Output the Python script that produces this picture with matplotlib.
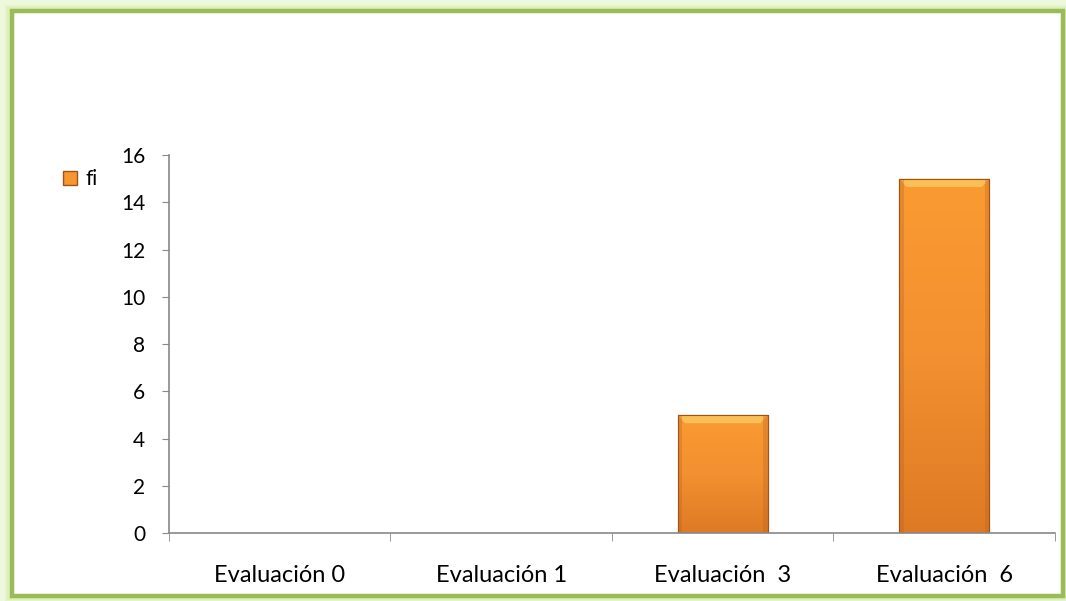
import numpy as np
import matplotlib
matplotlib.use("Agg")
import matplotlib.pyplot as plt
from matplotlib.patches import Rectangle, Patch

# datos del gráfico
categorias = ["Evaluación 0", "Evaluación 1", "Evaluación  3", "Evaluación  6"]
fi = [0, 0, 5, 15]
yticks = [0, 2, 4, 6, 8, 10, 12, 14, 16]

plt.rcParams['font.family'] = ['Lato', 'DejaVu Sans']

fig = plt.figure(figsize=(10.66, 6.01), dpi=100)
fig.patch.set_facecolor("#eef8dc")

# marco verde con brillo exterior (detrás de los ejes)
for pad, a in [(0.006, 0.5), (0.004, 0.8)]:
    fig.patches.append(Rectangle((0.0108 - pad, 0.0083 - pad * 1.77), 0.986 + 2 * pad, 0.9726 + 2 * pad * 1.77,
                                 transform=fig.transFigure, facecolor="#dcefb8", edgecolor="none",
                                 alpha=a, zorder=-2))
fig.patches.append(Rectangle((0.0108, 0.0083), 0.986, 0.9726, transform=fig.transFigure,
                             facecolor="white", edgecolor="#9bbb59", lw=3.2, zorder=-1))

ax = fig.add_axes([0.1585, 0.1131, 0.8311, 0.629])
ax.set_facecolor("none")
x = np.arange(len(categorias))
barras = ax.bar(x, fi, width=0.406, color="#f7962e", edgecolor="#a0521a", linewidth=0.8, zorder=2)

# degradado naranja dentro de cada barra
grad = np.linspace(0, 1, 256).reshape(-1, 1)
cmap = matplotlib.colors.LinearSegmentedColormap.from_list("nar", ["#de7a24", "#f39030", "#fa9b32"])
for b in barras:
    if b.get_height() <= 0:
        continue
    x0, w, h = b.get_x(), b.get_width(), b.get_height()
    im = ax.imshow(grad, extent=[x0, x0 + w, 0, h], origin="lower", cmap=cmap,
                   aspect="auto", zorder=2.1)
    im.set_clip_path(b)
    # bisel superior claro
    ax.fill([x0, x0 + w, x0 + w * 0.92, x0 + w * 0.08], [h, h, h - 0.35, h - 0.35],
            facecolor="#fdd06a", edgecolor="none", alpha=0.7, zorder=2.2)
    # bordes laterales más oscuros
    for xs in (x0, x0 + w * 0.95):
        ax.add_patch(Rectangle((xs, 0), w * 0.05, h, facecolor="#b8601c", edgecolor="none",
                               alpha=0.3, zorder=2.2))
    ax.add_patch(Rectangle((x0, 0), w, h, facecolor="none", edgecolor="#a0521a", lw=0.8, zorder=2.3))

ax.set_xlim(-0.5, len(categorias) - 0.5)
ax.set_ylim(0, 16)
ax.set_yticks(yticks)
ax.set_xticks(x)
ax.set_xticklabels(categorias)
ax.set_xticks(np.arange(-0.5, len(categorias), 1), minor=True)
ax.tick_params(axis="x", which="major", length=0, pad=23, labelsize=17)
ax.tick_params(axis="x", which="minor", length=6, color="#888888")
ax.tick_params(axis="y", length=5, color="#888888", labelsize=15, pad=12)

for s in ["top", "right"]:
    ax.spines[s].set_visible(False)
for s in ["left", "bottom"]:
    ax.spines[s].set_color("#888888")
    ax.spines[s].set_linewidth(1.2)

# leyenda
fig.legend(handles=[Patch(facecolor="#f7962e", edgecolor="#a0521a", label="fi")],
           loc="center left", bbox_to_anchor=(0.059, 0.702), frameon=False,
           borderpad=0, borderaxespad=0,
           fontsize=15, handlelength=0.7, handleheight=0.7, handletextpad=0.4)

fig.savefig("out.png", dpi=100, facecolor=fig.get_facecolor())
